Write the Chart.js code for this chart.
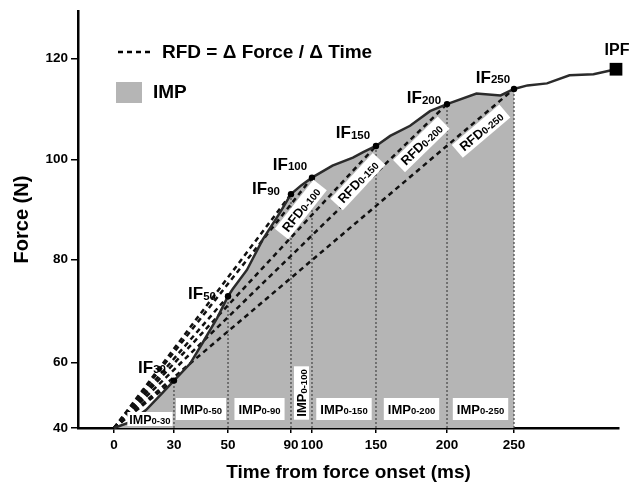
<!DOCTYPE html>
<html>
<head>
<meta charset="utf-8">
<script src="https://cdn.jsdelivr.net/npm/chart.js@4/dist/chart.umd.min.js"></script>
<style>
  html, body { margin: 0; padding: 0; background: #fff; }
  #wrap { width: 631px; height: 490px; }
</style>
</head>
<body>
<div id="wrap"><canvas id="forceChart" width="631" height="490"></canvas></div>
<script>
// force-time curve (time in ms, force in N)
const curveTime  = [0, 8, 16, 24, 30, 36, 41, 46, 50, 53, 62, 72, 83, 90, 95, 100, 116, 132, 140, 150,
                    160, 174, 188, 200, 222, 240, 250, 259, 272, 287, 303, 318];
const curveForce = [40, 41.8, 45.5, 50.6, 54.5, 59.7, 64.2, 68.7, 72.9, 74.3, 78.0, 84.0, 89.4, 93.1, 94.9, 96.4, 98.8, 100.4, 101.5, 102.7,
                    104.7, 106.7, 109.6, 111.0, 113.1, 112.7, 114.0, 114.7, 115.1, 116.7, 116.9, 117.9];

const ifTimes  = [30, 50, 90, 100, 150, 200, 250];   // IF / IMP / vertical markers
const rfdTimes = [100, 150, 200, 250];               // RFD windows that get a label
const xTicks   = [0, 30, 50, 90, 100, 150, 200, 250];
const yTicks   = [40, 60, 80, 100, 120];
const onset    = { t: 0, f: 40 };

const FONT = '"Liberation Sans", Arial, sans-serif';
const FILL_GREY = "#b5b5b5";

// the axes in the figure are not evenly spaced, so the scale maps values piecewise
const knots = {
  x: { vals: [-20, 0, 30, 50, 90, 100, 150, 200, 250, 320],
       fracs: [0, 0.0665, 0.1774, 0.2773, 0.3937, 0.4325, 0.5508, 0.6821, 0.8059, 1] },
  y: { vals: [40, 60, 80, 100, 120, 129.5],
       fracs: [0, 0.1568, 0.4038, 0.6437, 0.8860, 1] },
};

function lerpKnots(v, from, to) {
  if (v <= from[0]) return to[0];
  for (let i = 1; i < from.length; i++) {
    if (v <= from[i]) {
      const k = (v - from[i - 1]) / (from[i] - from[i - 1]);
      return to[i - 1] + k * (to[i] - to[i - 1]);
    }
  }
  return to[to.length - 1];
}

class WarpScale extends Chart.LinearScale {
  static id = "warp";
  getPixelForValue(value) {
    const k = knots[this.id];
    const f = lerpKnots(value, k.vals, k.fracs);
    return this.isHorizontal() ? this.left + f * this.width : this.bottom - f * this.height;
  }
  getValueForPixel(pixel) {
    const k = knots[this.id];
    const f = this.isHorizontal() ? (pixel - this.left) / this.width : (this.bottom - pixel) / this.height;
    return lerpKnots(f, k.fracs, k.vals);
  }
}
Chart.register(WarpScale);

const forceAt = (t) => curveForce[curveTime.indexOf(t)];
const curvePts = curveTime.map((t, i) => ({ x: t, y: curveForce[i] }));
const lastIdx = curveTime.length - 1;

const datasets = [];

// measured force curve with IF dots and the IPF square
datasets.push({
  data: curvePts,
  borderColor: "#2b2b2b",
  borderWidth: 2.5,
  tension: 0,
  clip: false,
  pointRadius: curveTime.map((t, i) => (i === lastIdx ? 9 : ifTimes.includes(t) ? 3.2 : 0)),
  pointStyle: curveTime.map((t, i) => (i === lastIdx ? "rect" : "circle")),
  pointBackgroundColor: "#000",
  pointBorderColor: "#000",
  pointBorderWidth: 0,
  order: 0,
});

// RFD chords from onset to every IF point
ifTimes.forEach((t) => {
  datasets.push({
    data: [{ x: onset.t, y: onset.f }, { x: t, y: forceAt(t) }],
    borderColor: "#111",
    borderWidth: 2.5,
    borderDash: [5, 4],
    pointRadius: 0,
    order: 1,
  });
});

// dotted drop lines
ifTimes.forEach((t) => {
  datasets.push({
    data: [{ x: t, y: onset.f }, { x: t, y: forceAt(t) }],
    borderColor: "#444",
    borderWidth: 1.2,
    borderDash: [2, 2],
    pointRadius: 0,
    order: 2,
  });
});

// impulse area up to 250 ms
datasets.push({
  data: curvePts.filter((p) => p.x <= 250),
  borderWidth: 0,
  borderColor: "rgba(0,0,0,0)",
  backgroundColor: FILL_GREY,
  fill: "start",
  pointRadius: 0,
  order: 3,
});

function subText(ctx, main, sub, x, y, mainPx, subPx, centered) {
  ctx.font = `bold ${mainPx}px ${FONT}`;
  const w1 = ctx.measureText(main).width;
  ctx.font = `bold ${subPx}px ${FONT}`;
  const w2 = ctx.measureText(sub).width;
  const x0 = centered ? x - (w1 + w2) / 2 : x;
  ctx.textAlign = "left";
  ctx.textBaseline = "alphabetic";
  ctx.font = `bold ${mainPx}px ${FONT}`;
  ctx.fillText(main, x0, y);
  ctx.font = `bold ${subPx}px ${FONT}`;
  ctx.fillText(sub, x0 + w1, y + 0.5);
}

function subWidth(ctx, main, sub, mainPx, subPx) {
  ctx.font = `bold ${mainPx}px ${FONT}`;
  const w1 = ctx.measureText(main).width;
  ctx.font = `bold ${subPx}px ${FONT}`;
  return w1 + ctx.measureText(sub).width;
}

function boxedLabel(ctx, main, sub, cx, cy, angle, mainPx, subPx, padX, h) {
  const w = subWidth(ctx, main, sub, mainPx, subPx) + padX * 2;
  ctx.save();
  ctx.translate(cx, cy);
  ctx.rotate(angle);
  ctx.fillStyle = "#fff";
  ctx.fillRect(-w / 2, -h / 2, w, h);
  ctx.fillStyle = "#000";
  subText(ctx, main, sub, 0, mainPx * 0.36, mainPx, subPx, true);
  ctx.restore();
}

// label offsets (px) of each IF tag from its dot: [dx of text centre, dy of baseline]
const ifLabelOffsets = [[-22, -8], [-26, 3], [-25, 0], [-22, -8], [-23, -8], [-23, -1], [-21, -6]];

const annotate = {
  id: "annotate",
  afterDatasetsDraw(chart) {
    const { ctx, scales: { x, y } } = chart;
    const px = (t) => x.getPixelForValue(t);
    const py = (f) => y.getPixelForValue(f);
    const x0 = px(onset.t), y0 = py(onset.f);
    const base = y.bottom;

    // IMP boxes between consecutive markers
    ifTimes.forEach((t, i) => {
      const prev = i === 0 ? onset.t : ifTimes[i - 1];
      const mid = (px(prev) + px(t)) / 2;
      const sub = `0-${t}`;
      if (t === 30) {
        boxedLabel(ctx, "IMP", sub, mid + 6, base - 9, 0, 12.5, 9.5, 2, 14);
      } else if (px(t) - px(prev) < 30) {
        boxedLabel(ctx, "IMP", sub, mid, base - 35, -Math.PI / 2, 13, 9.5, 3, 15);
      } else {
        boxedLabel(ctx, "IMP", sub, mid, base - 19, 0, 13, 9.5, 4, 22);
      }
    });

    // RFD tags along their chords
    rfdTimes.forEach((t) => {
      const x1 = px(t), y1 = py(forceAt(t));
      const dx = x1 - x0, dy = y1 - y0;
      const len = Math.hypot(dx, dy);
      const ux = dx / len, uy = dy / len;
      const cx = x0 + dx * 0.9 - uy * 11;
      const cy = y0 + dy * 0.9 + ux * 11;
      boxedLabel(ctx, "RFD", `0-${t}`, cx, cy, Math.atan2(dy, dx), 13, 10, 5, 17);
    });

    // IF tags
    ctx.fillStyle = "#000";
    ifTimes.forEach((t, i) => {
      const [ox, oy] = ifLabelOffsets[i];
      subText(ctx, "IF", String(t), px(t) + ox, py(forceAt(t)) + oy, 17, 11.5, true);
    });
    ctx.font = `bold 16px ${FONT}`;
    ctx.textAlign = "center";
    ctx.fillText("IPF", px(curveTime[lastIdx]) + 1, py(curveForce[lastIdx]) - 14);

    // legend
    ctx.save();
    ctx.strokeStyle = "#000";
    ctx.lineWidth = 2.5;
    ctx.setLineDash([5, 4]);
    ctx.beginPath();
    ctx.moveTo(118, 52);
    ctx.lineTo(153, 52);
    ctx.stroke();
    ctx.restore();
    ctx.fillStyle = FILL_GREY;
    ctx.fillRect(116, 82, 26, 21);
    ctx.fillStyle = "#000";
    ctx.font = `bold 19px ${FONT}`;
    ctx.textAlign = "left";
    ctx.textBaseline = "middle";
    ctx.fillText("RFD = \u0394 Force / \u0394 Time", 162, 53);
    ctx.fillText("IMP", 153, 93);
  },
};

const axisFont = { family: FONT, size: 13.5, weight: "bold" };

new Chart(document.getElementById("forceChart"), {
  type: "line",
  data: { datasets },
  plugins: [annotate],
  options: {
    responsive: false,
    animation: false,
    devicePixelRatio: 1,
    layout: { padding: { left: 0, right: 12, top: 7, bottom: 0 } },
    plugins: { legend: { display: false }, tooltip: { enabled: false } },
    scales: {
      x: {
        type: "warp",
        min: -20,
        max: 320,
        afterBuildTicks: (s) => { s.ticks = xTicks.map((v) => ({ value: v })); },
        afterFit: (s) => { s.height = 62; },
        ticks: { autoSkip: false, maxRotation: 0, color: "#000", font: axisFont, padding: 4 },
        grid: { drawOnChartArea: false, drawTicks: true, tickLength: 5, color: "#000", lineWidth: 1.5 },
        border: { display: true, color: "#000", width: 2.5 },
        title: {
          display: true,
          text: "Time from force onset (ms)",
          color: "#000",
          font: { family: FONT, size: 19, weight: "bold" },
          padding: { top: 0, bottom: 6 },
        },
      },
      y: {
        type: "warp",
        min: 40,
        max: 129.5,
        afterBuildTicks: (s) => { s.ticks = yTicks.map((v) => ({ value: v })); },
        afterFit: (s) => { s.width = 78; },
        ticks: { color: "#000", font: axisFont, padding: 3 },
        grid: { drawOnChartArea: false, drawTicks: true, tickLength: 7, color: "#000", lineWidth: 1.5 },
        border: { display: true, color: "#000", width: 2.5 },
        title: {
          display: true,
          text: "Force (N)",
          color: "#000",
          font: { family: FONT, size: 20, weight: "bold" },
          padding: { top: 10, bottom: 0 },
        },
      },
    },
  },
});
</script>
</body>
</html>
